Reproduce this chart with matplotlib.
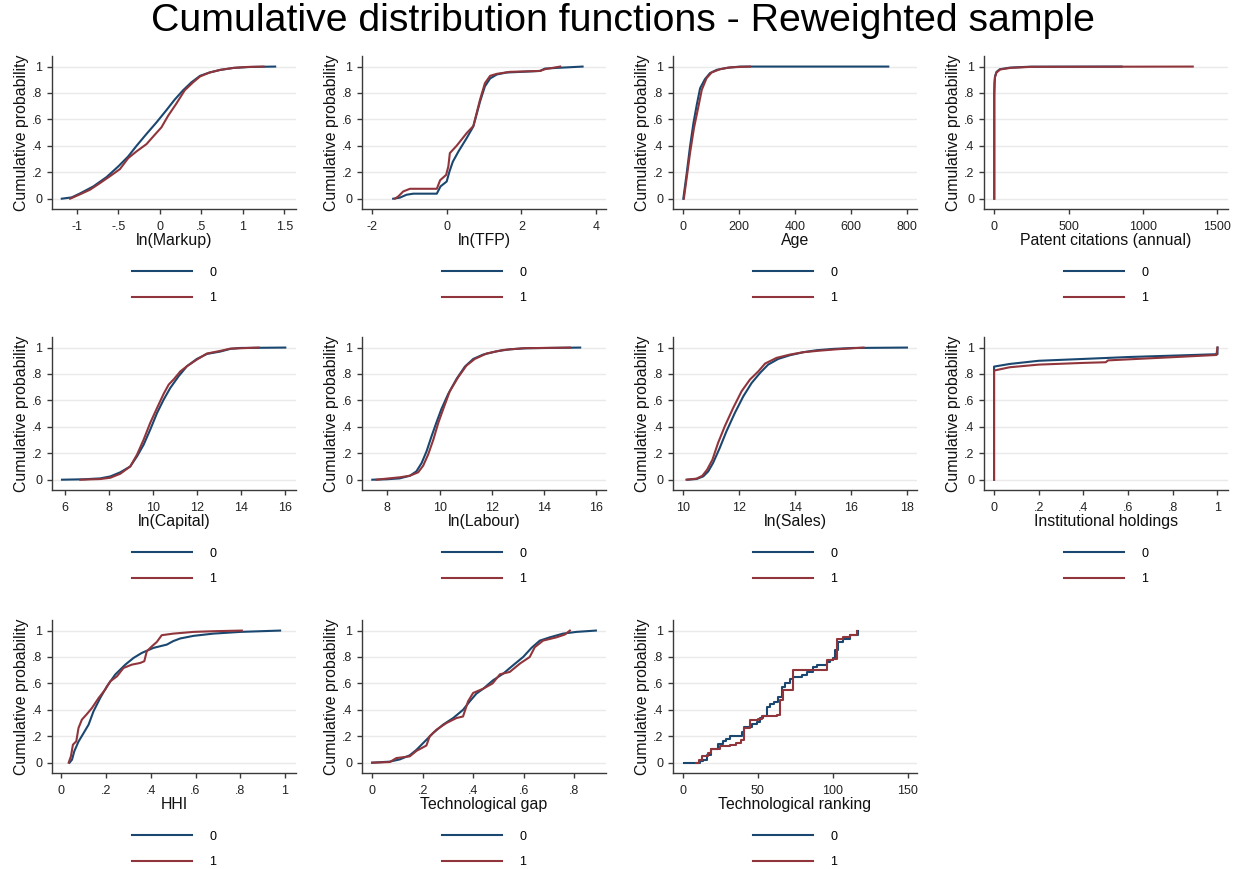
import matplotlib
matplotlib.use("Agg")
import matplotlib.pyplot as plt
from matplotlib.lines import Line2D

plt.rcParams['font.family'] = ['Liberation Sans', 'DejaVu Sans']

# ---- data (x, cumulative probability) ----
markup_x0 = [-1.18, -1.06, -0.96, -0.80, -0.64, -0.50, -0.38, -0.28, -0.16, -0.04, 0.08, 0.18, 0.28, 0.38, 0.485, 0.60, 0.73, 0.89, 1.09, 1.39]
markup_f0 = [0.0, 0.01, 0.04, 0.093, 0.164, 0.244, 0.32, 0.40, 0.49, 0.577, 0.67, 0.75, 0.82, 0.88, 0.93, 0.955, 0.975, 0.99, 0.997, 1.0]
markup_x1 = [-1.08, -0.96, -0.84, -0.72, -0.60, -0.48, -0.38, -0.28, -0.16, -0.08, 0.02, 0.10, 0.20, 0.30, 0.40, 0.485, 0.60, 0.73, 0.89, 1.05, 1.25]
markup_f1 = [0.0, 0.033, 0.068, 0.118, 0.17, 0.224, 0.307, 0.358, 0.413, 0.47, 0.54, 0.627, 0.72, 0.82, 0.88, 0.925, 0.955, 0.975, 0.99, 0.997, 1.0]

tfp_x0 = [-1.44, -1.26, -1.08, -0.90, -0.27, -0.17, -0.005, 0.07, 0.16, 0.31, 0.53, 0.71, 0.89, 1.02, 1.16, 1.34, 1.60, 2.14, 2.50, 2.63, 2.95, 3.64]
tfp_f0 = [0.0, 0.008, 0.03, 0.038, 0.038, 0.093, 0.13, 0.206, 0.28, 0.357, 0.458, 0.547, 0.735, 0.85, 0.91, 0.94, 0.955, 0.962, 0.967, 0.985, 0.99, 1.0]
tfp_x1 = [-1.39, -1.30, -1.17, -0.99, -0.27, -0.18, -0.02, 0.04, 0.08, 0.26, 0.53, 0.71, 0.89, 1.02, 1.16, 1.34, 1.69, 2.50, 2.63, 3.04]
tfp_f1 = [0.0, 0.018, 0.055, 0.075, 0.075, 0.14, 0.18, 0.245, 0.345, 0.40, 0.496, 0.55, 0.75, 0.874, 0.93, 0.945, 0.96, 0.967, 0.98, 1.0]

age_x0 = [0, 12, 24, 36, 48, 60, 77, 95, 119, 155, 202, 732]
age_f0 = [0.0, 0.19, 0.395, 0.57, 0.71, 0.836, 0.904, 0.95, 0.975, 0.99, 1.0, 1.0]
age_x1 = [2, 12, 24, 38, 54, 66, 83, 101, 131, 167, 238]
age_f1 = [0.0, 0.156, 0.345, 0.534, 0.698, 0.824, 0.912, 0.955, 0.98, 0.994, 1.0]

pat_x0 = [0, 0, 2, 5, 15, 38, 105, 240, 856]
pat_f0 = [0.0, 0.80, 0.88, 0.925, 0.96, 0.98, 0.992, 0.999, 1.0]
pat_x1 = [0, 0, 2, 5, 15, 40, 110, 250, 1335]
pat_f1 = [0.0, 0.78, 0.87, 0.92, 0.955, 0.978, 0.99, 0.998, 1.0]

cap_x0 = [5.85, 6.83, 7.59, 8.05, 8.50, 8.95, 9.26, 9.56, 9.86, 10.17, 10.47, 10.77, 11.15, 11.53, 11.98, 12.44, 13.05, 13.50, 13.95, 16.0]
cap_f0 = [0.0, 0.003, 0.01, 0.025, 0.056, 0.10, 0.177, 0.265, 0.379, 0.505, 0.606, 0.694, 0.783, 0.859, 0.914, 0.952, 0.97, 0.99, 0.997, 1.0]
cap_x1 = [6.68, 7.59, 8.05, 8.50, 8.95, 9.26, 9.56, 9.86, 10.17, 10.47, 10.70, 10.92, 11.23, 11.53, 11.98, 12.44, 13.05, 13.50, 14.79]
cap_f1 = [0.0, 0.005, 0.015, 0.045, 0.10, 0.19, 0.303, 0.43, 0.543, 0.65, 0.72, 0.758, 0.82, 0.859, 0.909, 0.955, 0.975, 0.992, 1.0]

lab_x0 = [7.42, 7.96, 8.47, 8.86, 9.11, 9.31, 9.50, 9.69, 9.88, 10.07, 10.33, 10.65, 10.97, 11.29, 11.67, 12.19, 12.70, 13.34, 15.39]
lab_f0 = [0.0, 0.003, 0.01, 0.03, 0.063, 0.126, 0.215, 0.328, 0.434, 0.535, 0.649, 0.763, 0.856, 0.914, 0.947, 0.972, 0.987, 0.995, 1.0]
lab_x1 = [7.58, 7.96, 8.47, 8.86, 9.18, 9.37, 9.56, 9.76, 9.95, 10.14, 10.39, 10.71, 11.03, 11.35, 11.80, 12.44, 13.21, 15.0]
lab_f1 = [0.0, 0.008, 0.018, 0.03, 0.056, 0.106, 0.19, 0.303, 0.43, 0.535, 0.669, 0.775, 0.864, 0.914, 0.955, 0.982, 0.995, 1.0]

sales_x0 = [10.16, 10.48, 10.72, 10.90, 11.07, 11.31, 11.55, 11.85, 12.15, 12.45, 12.75, 13.04, 13.40, 13.82, 14.30, 14.78, 15.37, 16.09, 18.0]
sales_f0 = [0.0, 0.005, 0.025, 0.063, 0.126, 0.24, 0.366, 0.505, 0.63, 0.732, 0.808, 0.871, 0.914, 0.942, 0.965, 0.98, 0.99, 0.997, 1.0]
sales_x1 = [10.12, 10.48, 10.69, 10.86, 11.05, 11.25, 11.49, 11.79, 12.09, 12.39, 12.69, 12.93, 13.34, 13.82, 14.30, 14.90, 15.49, 16.45]
sales_f1 = [0.0, 0.008, 0.03, 0.076, 0.152, 0.278, 0.404, 0.543, 0.669, 0.758, 0.82, 0.879, 0.922, 0.947, 0.965, 0.977, 0.987, 1.0]

inst_x0 = [0, 0, 0.07, 0.20, 0.40, 0.61, 0.82, 1.0, 1.0]
inst_f0 = [0.0, 0.856, 0.876, 0.90, 0.914, 0.929, 0.94, 0.95, 1.0]
inst_x1 = [0, 0, 0.07, 0.20, 0.40, 0.50, 0.51, 0.64, 0.82, 0.995, 1.0]
inst_f1 = [0.0, 0.826, 0.851, 0.871, 0.884, 0.889, 0.903, 0.914, 0.929, 0.944, 1.0]

hhi_x0 = [0.037, 0.048, 0.058, 0.077, 0.10, 0.122, 0.144, 0.174, 0.204, 0.241, 0.286, 0.323, 0.36, 0.412, 0.472, 0.50, 0.531, 0.591, 0.68, 0.80, 0.978]
hhi_f0 = [0.0, 0.023, 0.086, 0.16, 0.225, 0.288, 0.389, 0.49, 0.578, 0.667, 0.742, 0.793, 0.831, 0.869, 0.894, 0.92, 0.94, 0.96, 0.977, 0.99, 1.0]
hhi_x1 = [0.033, 0.043, 0.052, 0.067, 0.077, 0.092, 0.115, 0.137, 0.167, 0.196, 0.219, 0.249, 0.278, 0.315, 0.353, 0.371, 0.382, 0.405, 0.427, 0.449, 0.501, 0.591, 0.68, 0.807]
hhi_f1 = [0.0, 0.048, 0.136, 0.162, 0.263, 0.326, 0.369, 0.414, 0.49, 0.553, 0.616, 0.654, 0.717, 0.742, 0.755, 0.768, 0.843, 0.881, 0.914, 0.965, 0.977, 0.99, 0.995, 1.0]

gap_x0 = [0.0, 0.07, 0.11, 0.149, 0.176, 0.209, 0.242, 0.281, 0.321, 0.36, 0.387, 0.413, 0.44, 0.479, 0.519, 0.558, 0.598, 0.631, 0.664, 0.704, 0.756, 0.809, 0.886]
gap_f0 = [0.0, 0.008, 0.025, 0.056, 0.098, 0.162, 0.225, 0.288, 0.338, 0.40, 0.465, 0.523, 0.56, 0.624, 0.674, 0.737, 0.80, 0.869, 0.924, 0.949, 0.977, 0.99, 1.0]
gap_x1 = [0.0, 0.07, 0.096, 0.149, 0.176, 0.215, 0.228, 0.255, 0.294, 0.334, 0.36, 0.38, 0.40, 0.44, 0.477, 0.506, 0.545, 0.585, 0.624, 0.644, 0.677, 0.73, 0.763, 0.783]
gap_f1 = [0.0, 0.005, 0.035, 0.048, 0.09, 0.13, 0.20, 0.25, 0.30, 0.338, 0.35, 0.465, 0.528, 0.56, 0.60, 0.669, 0.687, 0.75, 0.80, 0.874, 0.924, 0.949, 0.97, 1.0]

rank_x0 = [0.4, 11.2, 13.4, 16, 19, 23.4, 26.8, 28.6, 31.3, 34.6, 39.7, 40.6, 45.8, 49.1, 51.3, 53.6, 55.8, 58, 60.7, 63.6, 65.8, 68.1, 71.4, 73.7, 79.2, 82.6, 87, 89.3, 92.6, 96, 98.2, 100.4, 101.6, 103.8, 107, 111.6, 117.2]
rank_f0 = [0.0, 0.01, 0.023, 0.056, 0.10, 0.141, 0.162, 0.18, 0.20, 0.205, 0.235, 0.27, 0.295, 0.31, 0.34, 0.35, 0.42, 0.447, 0.46, 0.50, 0.573, 0.60, 0.636, 0.65, 0.66, 0.687, 0.725, 0.737, 0.742, 0.763, 0.78, 0.793, 0.851, 0.914, 0.939, 0.965, 1.0]
rank_x1 = [8.5, 10.7, 12.9, 16.7, 19, 24.6, 31.3, 35.7, 38.4, 40.6, 44.6, 50.2, 52.5, 62.5, 64.7, 66.5, 73.7, 96, 100.4, 102.7, 107, 111.6, 116]
rank_f1 = [0.0, 0.018, 0.05, 0.073, 0.10, 0.125, 0.137, 0.15, 0.17, 0.26, 0.32, 0.333, 0.35, 0.364, 0.472, 0.553, 0.70, 0.775, 0.788, 0.939, 0.952, 0.965, 1.0]

titles = ["ln(Markup)", "ln(TFP)", "Age", "Patent citations (annual)",
          "ln(Capital)", "ln(Labour)", "ln(Sales)", "Institutional holdings",
          "HHI", "Technological gap", "Technological ranking"]
series = [(markup_x0, markup_f0, markup_x1, markup_f1),
          (tfp_x0, tfp_f0, tfp_x1, tfp_f1),
          (age_x0, age_f0, age_x1, age_f1),
          (pat_x0, pat_f0, pat_x1, pat_f1),
          (cap_x0, cap_f0, cap_x1, cap_f1),
          (lab_x0, lab_f0, lab_x1, lab_f1),
          (sales_x0, sales_f0, sales_x1, sales_f1),
          (inst_x0, inst_f0, inst_x1, inst_f1),
          (hhi_x0, hhi_f0, hhi_x1, hhi_f1),
          (gap_x0, gap_f0, gap_x1, gap_f1),
          (rank_x0, rank_f0, rank_x1, rank_f1)]
xticks = [[-1, -0.5, 0, 0.5, 1, 1.5], [-2, 0, 2, 4], [0, 200, 400, 600, 800], [0, 500, 1000, 1500],
          [6, 8, 10, 12, 14, 16], [8, 10, 12, 14, 16], [10, 12, 14, 16, 18], [0, 0.2, 0.4, 0.6, 0.8, 1],
          [0, 0.2, 0.4, 0.6, 0.8, 1], [0, 0.2, 0.4, 0.6, 0.8], [0, 50, 100, 150]]
xlims = [(-1.298, 1.641), (-2.276, 4.268), (-36.8, 834.6), (-69, 1572),
         (5.395, 16.486), (7.025, 16.38), (9.64, 18.36), (-0.045, 1.047),
         (-0.0415, 1.049), (-0.04, 0.926), (-6.7, 156.3)]
yticks = [0, 0.2, 0.4, 0.6, 0.8, 1]

BLUE = "#1a476f"
RED = "#90353b"
AXC = "#3a3a3a"


def stata_fmt(v):
    s = f"{v:g}"
    return s.replace("0.", ".") if abs(v) < 1 else s


W, H = 1245, 869
fig = plt.figure(figsize=(12.45, 8.69), dpi=100)
fig.suptitle("Cumulative distribution functions - Reweighted sample", fontsize=28.3, y=0.976, va='center')

col_x = [(52, 296), (362, 606), (673, 917), (984, 1228)]
row_top = [56, 337, 620]
ah = 153

for i, name in enumerate(titles):
    r, c = divmod(i, 4)
    x0, x1 = col_x[c]
    ax = fig.add_axes([x0 / W, 1 - (row_top[r] + ah) / H, (x1 - x0) / W, ah / H])
    xa, fa, xb, fb = series[i]
    ds = 'steps-post' if name == "Technological ranking" else 'default'
    ax.plot(xa, fa, color=BLUE, lw=1.5, drawstyle=ds)
    ax.plot(xb, fb, color=RED, lw=1.5, drawstyle=ds)

    ax.set_xlim(*xlims[i])
    ax.set_ylim(-0.078, 1.08)
    ax.set_xticks(xticks[i])
    ax.set_xticklabels([stata_fmt(v) for v in xticks[i]])
    ax.set_yticks(yticks)
    ax.set_yticklabels([stata_fmt(v) for v in yticks])
    ax.grid(axis='y', color='#eaeaea', lw=1.0)
    ax.set_axisbelow(True)
    for s in ['top', 'right']:
        ax.spines[s].set_visible(False)
    for s in ['left', 'bottom']:
        ax.spines[s].set_color(AXC)
        ax.spines[s].set_linewidth(1.0)
    ax.tick_params(colors=AXC, labelcolor='#222222', labelsize=9, length=3.6, width=1.0)
    ax.tick_params(axis='x', pad=5)
    ax.tick_params(axis='y', pad=3.5)
    ax.set_xlabel(name, fontsize=11.4, labelpad=0, color='#111111')
    ax.set_ylabel("Cumulative probability", fontsize=11.4, labelpad=2, color='#111111')

    handles = [Line2D([], [], color=BLUE, lw=1.5), Line2D([], [], color=RED, lw=1.5)]
    ax.legend(handles, ["0", "1"], loc='center', bbox_to_anchor=(0.5, -0.50), frameon=False,
              fontsize=9, handlelength=4.8, handletextpad=1.4, labelspacing=1.1)

fig.savefig("out.png", dpi=100, facecolor='white')
